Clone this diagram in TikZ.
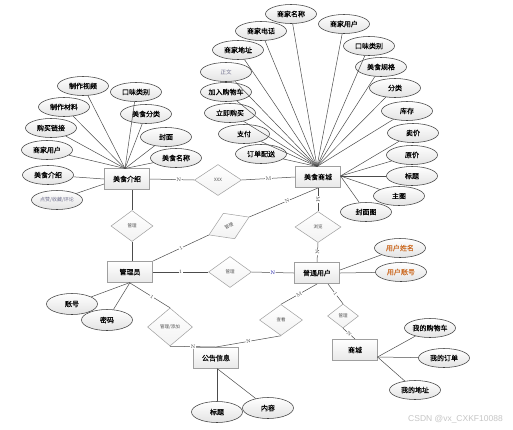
\documentclass[tikz,border=0pt]{standalone}
\usepackage{fontspec}
\newfontfamily\cjk{Noto Sans CJK SC}
\newfontfamily\cjkb[FakeBold=0.5]{Noto Sans CJK SC}
\newfontfamily\wmfont{Liberation Sans}
\usetikzlibrary{shapes.geometric,calc}
\definecolor{orangetxt}{RGB}{205,110,40}
\definecolor{graytxt}{RGB}{110,110,140}
\tikzset{
 ent/.style={draw=gray!75, line width=1pt, rectangle, minimum width=45pt, minimum height=21pt, inner sep=0pt, top color=white, bottom color=gray!18, font=\cjkb\fontsize{7}{7}\selectfont},
 attr/.style={draw=black!75, line width=0.55pt, ellipse, minimum width=51pt, minimum height=19pt, inner sep=0pt, top color=white, bottom color=gray!22, font=\cjkb\fontsize{7}{7}\selectfont},
 rel/.style={draw=gray!75, line width=0.5pt, diamond, minimum width=45pt, minimum height=31pt, inner sep=0pt, top color=white, bottom color=gray!10, font=\cjk\fontsize{4.5}{4.5}\selectfont, text=gray!60!black},
 link/.style={draw=black!70, line width=0.5pt},
 card/.style={font=\fontsize{5}{5}\selectfont, fill=white, inner sep=0.4pt, text=black!75, sloped},
}
\begin{document}
\begin{tikzpicture}[x=1pt,y=-1pt]
\fill[white] (0,0) rectangle (513,429);
\useasboundingbox (0,0) rectangle (513,429);

% entities
\node[ent] (e1) at (127,179) {美食介绍};
\node[ent] (e2) at (318,177) {美食商城};
\node[ent] (e3) at (130,272) {管理员};
\node[ent] (e4) at (317,273) {普通用户};
\node[ent] (e5) at (216,358) {公告信息};
\node[ent] (e6) at (355,350) {商城};

% relations
\node[rel, minimum width=47pt] (r1) at (218,180) {XXX};
\node[rel, minimum width=42pt] (r2) at (132,226) {管理};
\node[rel, rotate=24, minimum width=44pt, minimum height=28pt] (r3) at (229,226) {管理};
\node[rel, minimum width=43pt] (r4) at (230,272) {管理};
\node[rel, minimum width=46pt] (r5) at (318,227) {浏览};
\node[rel, minimum width=45pt, minimum height=38pt] (r6) at (170,327) {管理/添加};
\node[rel, minimum width=43pt] (r7) at (281,320) {查看};
\node[rel, minimum width=31pt, minimum height=24pt] (r8) at (343,316) {管理};

% convergence points
\coordinate (c1) at (125,168.5);
\coordinate (c2) at (317,166.5);
\coordinate (c3) at (340.5,176);
\coordinate (c4) at (130,282.5);
\coordinate (c5) at (217,368.5);
\coordinate (c6) at (377.5,357);

% attributes of 美食介绍
\node[attr] (a1) at (83,86) {制作视频};
\node[attr] (a2) at (136,92) {口味类别};
\node[attr] (a3) at (64,107) {制作材料};
\node[attr] (a4) at (146,114) {美食分类};
\node[attr] (a5) at (51,128) {购买链接};
\node[attr] (a6) at (166,137) {封面};
\node[attr] (a7) at (47,150) {商家用户};
\node[attr] (a8) at (176,158) {美食名称};
\node[attr] (a9) at (48,175) {美食介绍};
\node[attr, font=\cjk\fontsize{5}{5}\selectfont, text=graytxt] (a10) at (57,200) {点赞/收藏/评论};
\foreach \a in {a1,a2,a3,a4,a5,a6,a7,a8} \draw[link] (\a) -- (c1);
\draw[link] (a9) -- (e1.west);
\draw[link] (a10) -- ($(e1.west)+(0,5)$);

% attributes of 美食商城
\node[attr] (b1) at (291,14) {商家名称};
\node[attr] (b2) at (261,31) {商家电话};
\node[attr] (b3) at (344,24) {商家用户};
\node[attr] (b4) at (238,50) {商家地址};
\node[attr] (b5) at (369,46) {口味类别};
\node[attr, font=\cjk\fontsize{5.5}{5.5}\selectfont, text=graytxt] (b6) at (226,72) {正文};
\node[attr] (b7) at (381,67) {美食规格};
\node[attr] (b8) at (226,92) {加入购物车};
\node[attr] (b9) at (395,88) {分类};
\node[attr] (b10) at (230,113) {立即购买};
\node[attr] (b11) at (407,111) {库存};
\node[attr] (b12) at (244,134) {支付};
\node[attr] (b13) at (261,154) {订单配送};
\node[attr] (b14) at (413,133) {卖价};
\node[attr] (b15) at (412,155) {原价};
\node[attr] (b16) at (412,176) {标题};
\node[attr] (b17) at (399,196) {主图};
\node[attr] (b18) at (366,212) {封面图};
\foreach \b in {b1,b2,b3,b4,b5,b6,b7,b8,b9,b10,b11,b12,b13} \draw[link] (\b) -- (c2);
\foreach \b in {b14,b15,b16,b17,b18} \draw[link] (\b) -- (c3);

% attributes of 普通用户
\node[attr, text=orangetxt] (u1) at (400,248) {用户姓名};
\node[attr, text=orangetxt] (u2) at (401,272) {用户账号};
\draw[link] (u1) -- ($(e4.east)+(0,-3)$);
\draw[link] (u2) -- (e4.east);

% attributes of 管理员
\node[attr, minimum height=21pt] (m1) at (72,304) {账号};
\node[attr, minimum height=21pt] (m2) at (107,320) {密码};
\draw[link] (m1) -- (c4);
\draw[link] (m2) -- (c4);

% attributes of 公告信息
\node[attr, minimum height=21pt] (n1) at (217,412) {标题};
\node[attr, minimum height=21pt] (n2) at (268,408) {内容};
\draw[link] (n1) -- (c5);
\draw[link] (n2) -- (c5);

% attributes of 商城
\node[attr] (s1) at (430,328) {我的购物车};
\node[attr] (s2) at (444,358) {我的订单};
\node[attr] (s3) at (415,390) {我的地址};
\foreach \s in {s1,s2,s3} \draw[link] (\s) -- (c6);

% relationship connectors
\draw[link] (e1.east) -- node[card, pos=0.65] {N} (r1.west);
\draw[link] (r1.east) -- node[card] {M} (e2.west);
\draw[link] (e1.south -| r2) -- (r2.north);
\draw[link] (r2.south) -- (r2.south |- e3.north);
\draw[link] (e3.north east) -- node[card] {1} (r3.west);
\draw[link] (r3.east) -- node[card, pos=0.55] {N} (e2.south);
\draw[link, line width=1pt] (e3.east) -- node[card] {1} (r4.west);
\draw[link] (r4.east) -- node[card, text=blue!60!black] {N} (e4.west);
\draw[link] (e2.south) -- node[card] {M} (r5.north);
\draw[link] (r5.south) -- node[card] {N} (e4.north);
\draw[link] (e3.south) -- node[card, pos=0.55] {1} (r6.north);
\draw[link] (r6.south) -- node[card] {N} (e5.north);
\draw[link] (e4.south) -- node[card] {M} (r7.north);
\draw[link] (r7.south) -- node[card] {N} (e5.north);
\draw[link] ($(e4.south)+(11,0)$) -- node[card] {1} (r8.north);
\draw[link] (r8.south) -- node[card] {N} (e6.north);

% watermark
\node[anchor=base west, font=\wmfont\fontsize{8.5}{8.5}\selectfont, text=gray!45, inner sep=0pt] (wm) at (408,421) {CSDN @vx\_CXKF10088};
\end{tikzpicture}
\end{document}
